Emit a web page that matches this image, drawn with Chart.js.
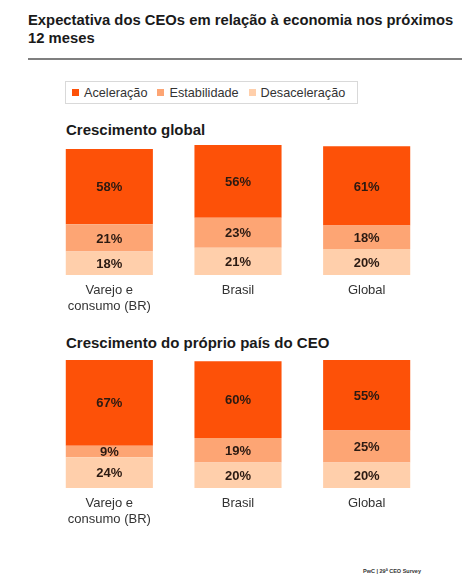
<!DOCTYPE html>
<html>
<head>
<meta charset="utf-8">
<script src="https://cdn.jsdelivr.net/npm/chart.js"></script>
<style>
  html, body { margin: 0; padding: 0; background: #fff; }
  body { width: 462px; height: 581px; position: relative; overflow: hidden; font-family: "Liberation Sans", Arial, sans-serif; }
  .title { position: absolute; left: 28px; top: 11px; width: 434px; font-size: 14.8px; font-weight: bold; line-height: 18px; color: #1a1a1a; }
  .rule { position: absolute; left: 28px; top: 58px; width: 434px; height: 2px; background: #7f7f7f; }
  .legend { position: absolute; left: 65px; top: 81px; width: 293px; height: 23px; border: 1px solid #d9d9d9; box-sizing: border-box; display: flex; align-items: center; padding-left: 6px; font-size: 12.7px; color: #333; }
  .legend span.item { display: inline-flex; align-items: center; margin-right: 10px; }
  .legend i { display: inline-block; width: 7px; height: 7px; margin-right: 5px; }
  .section { position: absolute; left: 66px; font-size: 15px; font-weight: bold; color: #1a1a1a; }
  .chart { position: absolute; left: 0; width: 462px; }
  .footer { position: absolute; left: 363px; top: 568px; font-size: 5.5px; font-weight: bold; color: #333; }
</style>
</head>
<body>
<div class="title">Expectativa dos CEOs em relação à economia nos próximos 12 meses</div>
<div class="rule"></div>
<div class="legend" id="legend"></div>

<div class="section" style="top:121px">Crescimento global</div>
<div class="chart" style="top:140px;height:175px"><canvas id="chartGlobal"></canvas></div>

<div class="section" style="top:334px">Crescimento do próprio país do CEO</div>
<div class="chart" style="top:355px;height:173px"><canvas id="chartPais"></canvas></div>

<div class="footer">PwC | 29ª CEO Survey</div>

<script>
// categories and series
const categories = [['Varejo e', 'consumo (BR)'], 'Brasil', 'Global'];
const seriesNames = ['Aceleração', 'Estabilidade', 'Desaceleração'];
const seriesColors = ['#fd5108', '#fda574', '#ffcfab'];

// Crescimento global
const globalAceleracao = [58, 56, 61];
const globalEstabilidade = [21, 23, 18];
const globalDesaceleracao = [18, 21, 20];

// Crescimento do próprio país do CEO
const paisAceleracao = [67, 60, 55];
const paisEstabilidade = [9, 19, 25];
const paisDesaceleracao = [24, 20, 20];

// legend
document.getElementById('legend').innerHTML = seriesNames.map((n, i) =>
    `<span class="item"><i style="background:${seriesColors[i]}"></i>${n}</span>`).join('');

// draw the % value in the middle of each segment
const segmentLabels = {
    id: 'segmentLabels',
    afterDatasetsDraw(chart) {
        const ctx = chart.ctx;
        ctx.save();
        ctx.font = 'bold 13px "Liberation Sans", Arial, sans-serif';
        ctx.fillStyle = '#2b1a12';
        ctx.textAlign = 'center';
        ctx.textBaseline = 'middle';
        chart.data.datasets.forEach((ds, i) => {
            chart.getDatasetMeta(i).data.forEach((bar, j) => {
                const mid = (bar.y + bar.base) / 2;
                ctx.fillText(ds.data[j] + '%', bar.x, mid + 1);
            });
        });
        ctx.restore();
    }
};

function makeChart(id, values) {
    // stack from bottom: Desaceleração, Estabilidade, Aceleração
    const order = [2, 1, 0];
    new Chart(document.getElementById(id), {
        type: 'bar',
        data: {
            labels: categories,
            datasets: order.map(k => ({
                label: seriesNames[k],
                data: values[k],
                backgroundColor: seriesColors[k],
                borderWidth: 0,
                categoryPercentage: 1,
                barPercentage: 0.677
            }))
        },
        options: {
            responsive: true,
            maintainAspectRatio: false,
            animation: false,
            layout: { padding: { top: 5, left: 45, right: 31, bottom: 0 } },
            plugins: { legend: { display: false }, tooltip: { enabled: false } },
            scales: {
                x: {
                    stacked: true,
                    grid: { display: false, drawTicks: false },
                    border: { display: false },
                    ticks: {
                        color: '#333',
                        padding: 8,
                        font: { size: 13, family: '"Liberation Sans", Arial, sans-serif' }
                    },
                    afterFit: s => { s.height = 40; }
                },
                y: { stacked: true, display: false, min: 0, max: 100 }
            }
        },
        plugins: [segmentLabels]
    });
}

makeChart('chartGlobal', [globalAceleracao, globalEstabilidade, globalDesaceleracao]);
makeChart('chartPais', [paisAceleracao, paisEstabilidade, paisDesaceleracao]);
</script>
</body>
</html>
